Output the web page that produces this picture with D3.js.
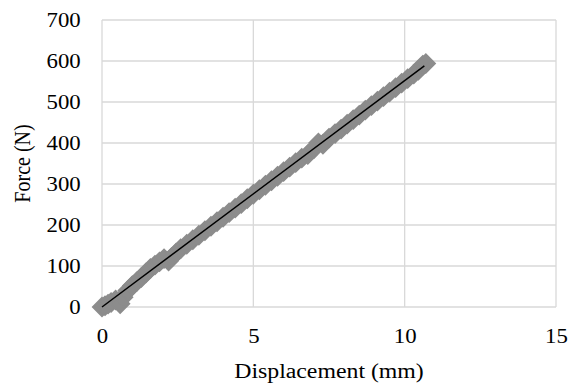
<!DOCTYPE html>
<html>
<head>
<meta charset="utf-8">
<script src="https://cdn.jsdelivr.net/npm/d3@7"></script>
<style>
  body { margin: 0; background: #fff; }
  svg { display: block; }
  text { font-family: "Liberation Serif", "DejaVu Serif", serif; fill: #000; }
</style>
</head>
<body>
<svg width="577" height="388"></svg>
<script>
// measured points, displacement in mm
const displacement = [0, 0.1, 0.2, 0.3, 0.45, 0.6, 0.7, 0.85, 1.0, 1.15, 1.3, 1.45, 1.6, 1.75, 1.9, 2.05, 2.2, 2.3,
  2.45, 2.6, 2.8, 3.0, 3.2, 3.4, 3.6, 3.8, 4.0, 4.2, 4.4, 4.6, 4.8, 5.0, 5.2, 5.4, 5.6, 5.8, 6.0, 6.2, 6.4,
  6.6, 6.8, 7.0, 7.15, 7.3, 7.5, 7.7, 7.9, 8.1, 8.3, 8.5, 8.7, 8.9, 9.1, 9.3, 9.5, 9.7, 9.9, 10.1, 10.3,
  10.45, 10.6, 10.7];
// force in N
const force = [0, 3, 7, 11, 17, 8, 24, 40, 52, 62, 72, 83, 94, 102, 110, 118, 112, 121,
  132, 142, 153, 164, 175, 186, 197, 208, 219, 230, 241, 252, 264, 275, 286, 297, 308, 319, 330, 341, 352,
  363, 372, 386, 400, 397, 412, 423, 434, 446, 457, 468, 480, 491, 502, 513, 524, 535, 546, 557, 568,
  577, 590, 594];
// linear trend line
const trendX = [0, 10.65];
const trendY = [0, 588];

const xTicks = [0, 5, 10, 15];
const yTicks = [0, 100, 200, 300, 400, 500, 600, 700];

const svg = d3.select('svg');
const margin = { top: 20, right: 21, bottom: 81, left: 102 };
const width = 577 - margin.left - margin.right;
const height = 388 - margin.top - margin.bottom;
const stretch = 1.14; // text in the picture is wider than tall

const x = d3.scaleLinear().domain([0, 15]).range([0, width]);
const y = d3.scaleLinear().domain([0, 700]).range([height, 0]);

const g = svg.append('g').attr('transform', `translate(${margin.left},${margin.top})`);

// gridlines
g.selectAll('.hgrid').data(yTicks).enter().append('line')
  .attr('x1', 0).attr('x2', width)
  .attr('y1', d => y(d)).attr('y2', d => y(d))
  .attr('stroke', '#d9d9d9').attr('stroke-width', 1.3);
g.selectAll('.vgrid').data(xTicks).enter().append('line')
  .attr('y1', 0).attr('y2', height)
  .attr('x1', d => x(d)).attr('x2', d => x(d))
  .attr('stroke', '#d9d9d9').attr('stroke-width', 1.3);

// axes, labels only
const xAxis = g.append('g').attr('transform', `translate(0,${height})`)
  .call(d3.axisBottom(x).tickValues(xTicks).tickSize(0));
const yAxis = g.append('g')
  .call(d3.axisLeft(y).tickValues(yTicks).tickSize(0));
[xAxis, yAxis].forEach(a => {
  a.select('.domain').remove();
  a.attr('font-family', null).attr('font-size', null);
  a.selectAll('text').style('font-size', '20px').attr('fill', '#000')
    .attr('transform', `scale(${stretch},1)`);
});
xAxis.selectAll('text').attr('y', 36).attr('dy', 0);
yAxis.selectAll('text').attr('x', -21.3 / stretch);

// data markers
const diamond = d3.symbol().type(d3.symbolSquare).size(175);
g.selectAll('.pt').data(displacement).enter().append('path')
  .attr('d', diamond)
  .attr('transform', (d, i) => `translate(${x(d)},${y(force[i])}) rotate(45)`)
  .attr('fill', '#8c8c8c').attr('stroke', '#8c8c8c').attr('stroke-width', 1.5);

// trend line
g.append('path')
  .datum(trendX.map((d, i) => [d, trendY[i]]))
  .attr('d', d3.line().x(d => x(d[0])).y(d => y(d[1])))
  .attr('fill', 'none').attr('stroke', '#000').attr('stroke-width', 1.5);

// titles
svg.append('text')
  .attr('transform', `translate(${margin.left + width / 2},378) scale(1.19,1)`)
  .attr('text-anchor', 'middle').style('font-size', '20px').text('Displacement (mm)');
svg.append('text')
  .attr('transform', `translate(29.5,${margin.top + height / 2}) scale(${stretch},1) rotate(-90)`)
  .attr('text-anchor', 'middle').style('font-size', '20px').text('Force (N)');
</script>
</body>
</html>
